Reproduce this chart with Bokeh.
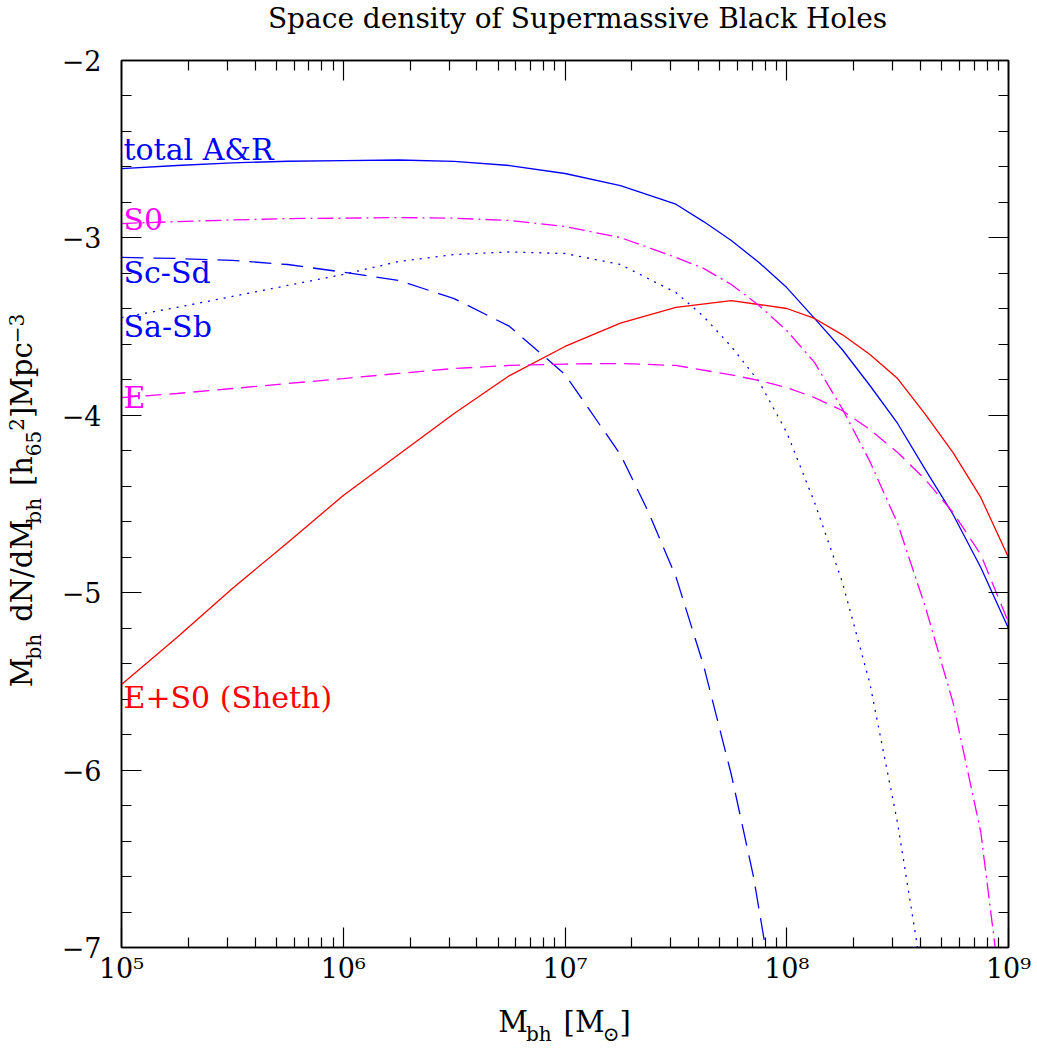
from math import pi
from bokeh.plotting import figure
from bokeh.layouts import row, column
from bokeh.models import FixedTicker, LogAxis, LinearAxis, Label
from bokeh.embed import file_html
from bokeh.resources import INLINE

FONT = "DejaVu Serif"
BLUE = "#0000ff"
MAGENTA = "#ff00ff"
RED = "#ff0000"

# ---------------- data ----------------
TOTAL_M = [1.0e5, 1.778e5, 3.162e5, 5.623e5, 1.0e6, 1.778e6, 3.162e6, 5.623e6, 1.0e7, 1.778e7,
           3.162e7, 4.217e7, 5.623e7, 7.499e7, 1.0e8, 1.334e8, 1.778e8, 2.371e8, 3.162e8, 4.217e8,
           5.623e8, 7.499e8, 1.0e9]
TOTAL_Y = [-2.610, -2.592, -2.577, -2.568, -2.564, -2.561, -2.569, -2.592, -2.637, -2.705,
           -2.810, -2.908, -3.015, -3.139, -3.280, -3.454, -3.629, -3.832, -4.046, -4.306,
           -4.559, -4.858, -5.202]

SHETH_M = [1.0e5, 1.778e5, 3.162e5, 5.623e5, 1.0e6, 1.778e6, 3.162e6, 5.623e6, 1.0e7, 1.778e7,
           3.162e7, 5.623e7, 1.0e8, 1.334e8, 1.778e8, 2.371e8, 3.162e8, 4.217e8, 5.623e8, 7.499e8,
           1.0e9]
SHETH_Y = [-5.517, -5.253, -4.976, -4.717, -4.452, -4.221, -3.990, -3.776, -3.612, -3.480,
           -3.392, -3.353, -3.398, -3.454, -3.545, -3.657, -3.793, -3.995, -4.210, -4.463,
           -4.802]

S0_M = [1.0e5, 1.778e5, 3.162e5, 5.623e5, 1.0e6, 1.778e6, 3.162e6, 5.623e6, 1.0e7, 1.778e7,
        3.162e7, 4.217e7, 5.623e7, 7.499e7, 1.0e8, 1.334e8, 1.778e8, 2.371e8, 3.162e8, 4.217e8,
        5.623e8, 7.499e8, 8.710e8, 1.0e9]
S0_Y = [-2.919, -2.908, -2.899, -2.891, -2.889, -2.885, -2.889, -2.902, -2.936, -2.998,
        -3.110, -3.172, -3.263, -3.381, -3.522, -3.702, -3.962, -4.260, -4.610, -5.080,
        -5.620, -6.350, -7.000, -7.600]

SCSD_M = [1.0e5, 1.778e5, 3.162e5, 5.623e5, 1.0e6, 1.778e6, 3.162e6, 5.623e6, 1.0e7, 1.778e7,
          2.371e7, 3.162e7, 4.217e7, 5.623e7, 7.079e7, 8.017e7, 8.913e7]
SCSD_Y = [-3.110, -3.116, -3.127, -3.150, -3.193, -3.240, -3.342, -3.499, -3.770, -4.221,
          -4.542, -4.909, -5.410, -6.025, -6.600, -7.000, -7.400]

SASB_M = [1.0e5, 1.778e5, 3.162e5, 5.623e5, 1.0e6, 1.778e6, 3.162e6, 5.623e6, 1.0e7, 1.778e7,
          3.162e7, 4.217e7, 5.623e7, 7.499e7, 1.0e8, 1.334e8, 1.778e8, 2.371e8, 3.162e8, 3.890e8,
          4.266e8]
SASB_Y = [-3.449, -3.392, -3.330, -3.268, -3.206, -3.133, -3.094, -3.079, -3.088, -3.150,
          -3.308, -3.443, -3.612, -3.810, -4.097, -4.490, -4.937, -5.512, -6.300, -7.000,
          -7.400]

E_M = [1.0e5, 1.778e5, 3.162e5, 5.623e5, 1.0e6, 1.778e6, 3.162e6, 5.623e6, 1.0e7, 1.778e7,
       3.162e7, 5.623e7, 7.499e7, 1.0e8, 1.334e8, 1.778e8, 2.371e8, 3.162e8, 4.217e8, 5.623e8,
       7.499e8, 1.0e9]
E_Y = [-3.900, -3.877, -3.849, -3.821, -3.793, -3.764, -3.736, -3.719, -3.711, -3.708,
       -3.719, -3.772, -3.804, -3.843, -3.900, -3.973, -4.080, -4.210, -4.362, -4.548,
       -4.785, -5.168]

X_MAJOR = [1e5, 1e6, 1e7, 1e8, 1e9]
X_LABELS = ["10⁵", "10⁶", "10⁷", "10⁸", "10⁹"]
Y_MAJOR = [-7, -6, -5, -4, -3, -2]
Y_LABELS = ["−7", "−6", "−5", "−4", "−3", "−2"]

CURVE_NAMES = ["total A&R", "S0", "Sc-Sd", "Sa-Sb", "E", "E+S0 (Sheth)"]
CURVE_NAME_COLORS = [BLUE, MAGENTA, BLUE, BLUE, MAGENTA, RED]
CURVE_NAME_Y = [-2.564, -2.958, -3.257, -3.561, -3.962, -5.653]   # label baselines

TITLE = "Space density of Supermassive Black Holes"

# ---------------- page geometry ----------------
PAGE_W, PAGE_H = 1037, 1048
YLAB_W = 58          # strip for the vertical axis title
TITLE_H = 45         # strip for the title
XLAB_H = 48          # strip for the horizontal axis title
MAIN_W = PAGE_W - YLAB_W
MAIN_H = PAGE_H - TITLE_H - XLAB_H
FRAME_L, FRAME_R, FRAME_T, FRAME_B = 121, 1008, 60, 947   # frame in page pixels
BASE_SHIFT = 0.38    # Label 'alphabetic' anchor sits this many em above the drawn baseline


def strip(w, h):
    f = figure(width=w, height=h, output_backend="svg", toolbar_location=None,
               x_axis_type=None, y_axis_type=None, x_range=(0, w), y_range=(0, h),
               min_border=0, outline_line_color=None)
    f.background_fill_color = "white"
    f.border_fill_color = "white"
    return f


# ---------------- main figure ----------------
x_minor = [k * d for d in X_MAJOR[:-1] for k in range(2, 10)]
y_minor = [round(-7 + 0.2 * i, 1) for i in range(26)]

p = figure(width=MAIN_W, height=MAIN_H, x_axis_type="log", x_range=(1e5, 1e9), y_range=(-7, -2),
           output_backend="svg", toolbar_location=None,
           min_border_left=FRAME_L - YLAB_W, min_border_right=PAGE_W - FRAME_R,
           min_border_top=FRAME_T - TITLE_H, min_border_bottom=TITLE_H + MAIN_H - FRAME_B)

p.background_fill_color = "white"
p.border_fill_color = "white"
p.xgrid.grid_line_color = None
p.ygrid.grid_line_color = None
p.outline_line_color = "black"
p.outline_line_width = 1.5


def style_axis(ax, ticks, minor, labels):
    ax.ticker = FixedTicker(ticks=ticks, minor_ticks=minor)
    ax.major_tick_in = 20
    ax.major_tick_out = 0
    ax.minor_tick_in = 10
    ax.minor_tick_out = 0
    ax.axis_line_color = "black"
    ax.axis_line_width = 1.5
    ax.major_tick_line_color = "black"
    ax.major_tick_line_width = 1.2
    ax.minor_tick_line_color = "black"
    ax.minor_tick_line_width = 1.2
    if labels is None:
        ax.major_label_overrides = {t: "" for t in ticks}
        ax.major_label_text_font_size = "0px"
        ax.major_label_standoff = 0
    else:
        ax.major_label_overrides = {t: l for t, l in zip(ticks, labels)}
        ax.major_label_text_font = FONT
        ax.major_label_text_font_size = "27px"
        ax.major_label_text_color = "black"


style_axis(p.xaxis[0], X_MAJOR, x_minor, X_LABELS)
p.xaxis[0].major_label_standoff = 5
style_axis(p.yaxis[0], Y_MAJOR, y_minor, Y_LABELS)
p.yaxis[0].major_label_standoff = 20

top = LogAxis()
style_axis(top, X_MAJOR, x_minor, None)
p.add_layout(top, "above")
right = LinearAxis()
style_axis(right, Y_MAJOR, y_minor, None)
p.add_layout(right, "right")

# ---------------- curves ----------------
p.line(TOTAL_M, TOTAL_Y, line_color=BLUE, line_width=1.3)
p.line(SHETH_M, SHETH_Y, line_color=RED, line_width=1.3)
p.line(S0_M, S0_Y, line_color=MAGENTA, line_width=1.3, line_dash="16 5 2 5")
p.line(SCSD_M, SCSD_Y, line_color=BLUE, line_width=1.3, line_dash="22 10")
p.line(SASB_M, SASB_Y, line_color=BLUE, line_width=1.3, line_dash="2 6")
p.line(E_M, E_Y, line_color=MAGENTA, line_width=1.3, line_dash="16 8")

LABEL_SIZE = 30
for name, col, yv in zip(CURVE_NAMES, CURVE_NAME_COLORS, CURVE_NAME_Y):
    p.add_layout(Label(x=X_MAJOR[0], y=yv, x_offset=2, y_offset=BASE_SHIFT * LABEL_SIZE,
                       text=name, text_color=col, text_font=FONT,
                       text_font_size=f"{LABEL_SIZE}px", text_baseline="alphabetic",
                       text_align="left"))

# ---------------- title strip (frames are aligned with the main frame) ----------------
TSIZE = 28
tfig = strip(MAIN_W, TITLE_H)
tfig.add_layout(Label(x=577 - FRAME_L, y=TITLE_H - 29 + BASE_SHIFT * TSIZE,
                      x_units="screen", y_units="screen",
                      text=TITLE, text_font=FONT, text_font_size=f"{TSIZE}px",
                      text_color="black", text_baseline="alphabetic", text_align="center"))

# ---------------- axis titles with sub/superscripts ----------------
W = {"M": 0.96, "b": 0.64, "h": 0.64, " ": 0.318, "[": 0.39, "]": 0.39, "⊙": 0.84, "d": 0.64,
     "N": 0.81, "/": 0.337, "p": 0.64, "c": 0.59, "6": 0.636, "5": 0.636, "2": 0.636,
     "3": 0.636, "−": 0.838}


def tw(s, size):
    return sum(W.get(c, 0.6) for c in s) * size


F, f, SUB, SUP, GAP = 29, 20, 8, 9, 12

# pieces: (text, size, shift across baseline; positive = subscript), None = gap
xlab = [("M", F, 0), ("bh", f, SUB), None, ("[M", F, 0), ("⊙", f, SUB), ("]", F, 0)]
ylab = [("M", F, 0), ("bh", f, SUB), None, ("dN/dM", F, 0), ("bh", f, SUB), None,
        ("[h", F, 0), ("65", f, SUB), ("2", f, -SUP), ("]Mpc", F, 0), ("−3", f, -SUP)]


def plen(pieces):
    return sum(GAP if pc is None else tw(pc[0], pc[1]) for pc in pieces)


xfig = strip(MAIN_W, XLAB_H)
x = (564 - FRAME_L) - plen(xlab) / 2
base = PAGE_H - 1033
for pc in xlab:
    if pc is None:
        x += GAP
        continue
    t, s, d = pc
    xfig.add_layout(Label(x=x, y=base - d + BASE_SHIFT * s, x_units="screen", y_units="screen",
                          text=t, text_font=FONT, text_font_size=f"{s}px", text_color="black",
                          text_baseline="alphabetic", text_align="left"))
    x += tw(t, s)

yfig = strip(YLAB_W, PAGE_H)
y = (PAGE_H - 500) - plen(ylab) / 2
bx = 33
for pc in ylab:
    if pc is None:
        y += GAP
        continue
    t, s, d = pc
    yfig.add_layout(Label(x=bx + d - BASE_SHIFT * s, y=y, x_units="screen", y_units="screen",
                          text=t, angle=pi / 2, text_font=FONT, text_font_size=f"{s}px",
                          text_color="black", text_baseline="alphabetic", text_align="left"))
    y += tw(t, s)

layout = row(yfig, column(tfig, p, xfig))
open("out.html", "w").write(file_html(layout, INLINE))
